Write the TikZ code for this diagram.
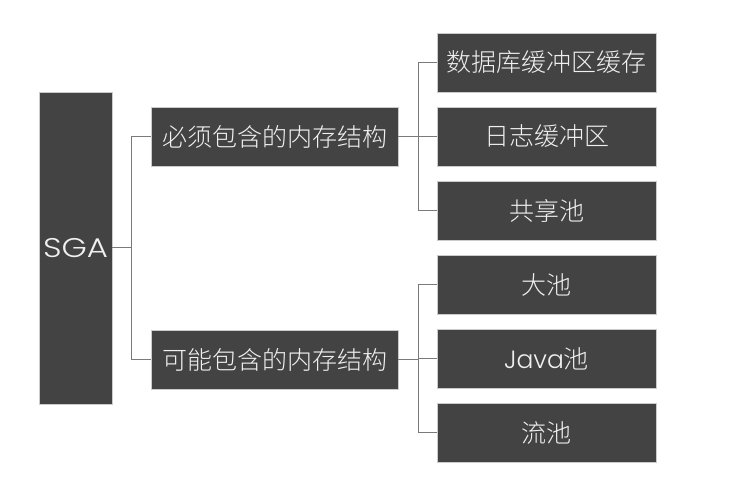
\documentclass[tikz,border=0pt]{standalone}
\usepackage{fontspec}
\newfontfamily\cjk{Noto Sans CJK SC}[UprightFont={* Light}]
\newfontfamily\lat{Poppins}[UprightFont={* Light}]
\newfontfamily\latwide{Poppins}[UprightFont={* Light},FakeStretch=1.2]
\definecolor{boxgray}{HTML}{434343}
\definecolor{edgegray}{HTML}{CBCBCB}
\definecolor{linegray}{HTML}{7A7A7A}
\usetikzlibrary{calc}

\begin{document}
\begin{tikzpicture}[x=1pt,y=-1pt,
  box/.style={draw=edgegray,fill=boxgray,text=white!94!black,inner sep=0pt,line width=0.8pt,font=\cjk\fontsize{25}{28}\selectfont},
  leaf/.style={box,minimum width=219pt,minimum height=59pt},
  conn/.style={linegray,line width=1pt}]
  \useasboundingbox (0,0) rectangle (733,478);
  \node[box,minimum width=73pt,minimum height=312pt,font=\latwide\fontsize{27}{30}\selectfont] (sga) at (75.5,248) {SGA};
  \node[box,minimum width=247pt,minimum height=59pt] (must) at (274.5,136.5) {必须包含的内存结构};
  \node[box,minimum width=247pt,minimum height=59pt] (may) at (274.5,359.5) {可能包含的内存结构};
  \node[leaf] (dbc) at (546.5,62.5) {数据库缓冲区缓存};
  \node[leaf] (logb) at (546.5,136.5) {日志缓冲区};
  \node[leaf] (shp) at (546.5,210.5) {共享池};
  \node[leaf] (lgp) at (546.5,284.5) {大池};
  \node[leaf] (jvp) at (546.5,358.5) {{\lat Java}池};
  \node[leaf] (stp) at (546.5,432.5) {流池};
  \coordinate (j0) at (131,248);
  \coordinate (j1) at (418,136.5);
  \coordinate (j2) at (418,359.5);
  \draw[conn] (sga.east) -- (j0);
  \foreach \n in {must,may} \draw[conn] (j0) |- (\n.west);
  \draw[conn] (must.east) -- (j1);
  \foreach \n in {dbc,logb,shp} \draw[conn] (j1) |- (\n.west);
  \draw[conn] (may.east) -- (j2);
  \foreach \n in {lgp,jvp,stp} \draw[conn] (j2) |- (\n.west);
\end{tikzpicture}
\end{document}
